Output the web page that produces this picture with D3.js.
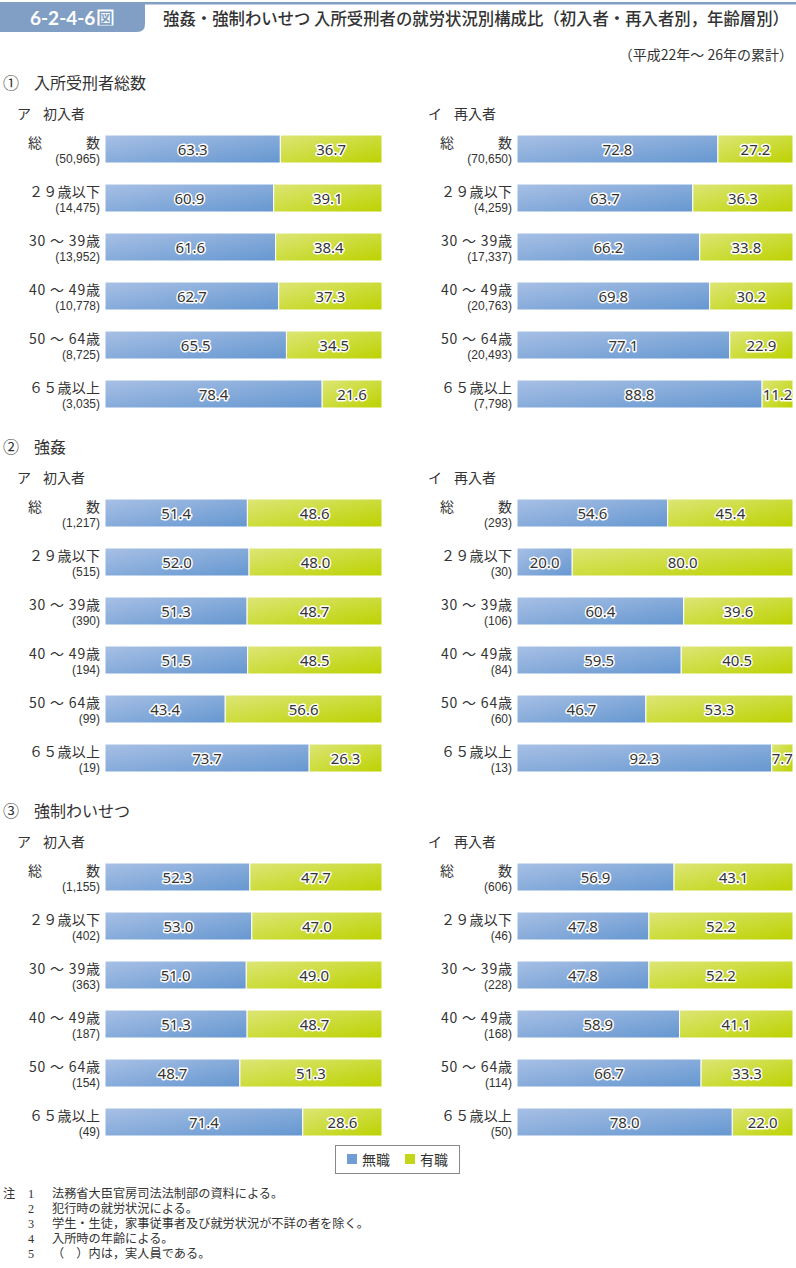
<!DOCTYPE html>
<html><head><meta charset="utf-8">
<script src="https://cdn.jsdelivr.net/npm/d3@7"></script>
<style>
html,body{margin:0;padding:0;background:#fff;}
svg{display:block;font-family:"Noto Sans CJK JP","Noto Sans",sans-serif;}
</style></head>
<body>
<svg id="chart" width="796" height="1268"></svg>
<script>
// ---- data ----
const categories = ["総数","29歳以下","30～39歳","40～49歳","50～64歳","65歳以上"];
const categoryLabels = ["総数","２９歳以下","30 ～ 39歳","40 ～ 49歳","50 ～ 64歳","６５歳以上"];
const sectionTitles = ["①","②","③"];
const sectionNames = ["入所受刑者総数","強姦","強制わいせつ"];
const panelTitles = [["ア","初入者"],["イ","再入者"]];
const seriesNames = ["無職","有職"];

// 入所受刑者総数
const totalFirstUnemp = [63.3,60.9,61.6,62.7,65.5,78.4];
const totalFirstEmp   = [36.7,39.1,38.4,37.3,34.5,21.6];
const totalFirstN     = [50965,14475,13952,10778,8725,3035];
const totalReUnemp    = [72.8,63.7,66.2,69.8,77.1,88.8];
const totalReEmp      = [27.2,36.3,33.8,30.2,22.9,11.2];
const totalReN        = [70650,4259,17337,20763,20493,7798];
// 強姦
const rapeFirstUnemp  = [51.4,52.0,51.3,51.5,43.4,73.7];
const rapeFirstEmp    = [48.6,48.0,48.7,48.5,56.6,26.3];
const rapeFirstN      = [1217,515,390,194,99,19];
const rapeReUnemp     = [54.6,20.0,60.4,59.5,46.7,92.3];
const rapeReEmp       = [45.4,80.0,39.6,40.5,53.3,7.7];
const rapeReN         = [293,30,106,84,60,13];
// 強制わいせつ
const indFirstUnemp   = [52.3,53.0,51.0,51.3,48.7,71.4];
const indFirstEmp     = [47.7,47.0,49.0,48.7,51.3,28.6];
const indFirstN       = [1155,402,363,187,154,49];
const indReUnemp      = [56.9,47.8,47.8,58.9,66.7,78.0];
const indReEmp        = [43.1,52.2,52.2,41.1,33.3,22.0];
const indReN          = [606,46,228,168,114,50];

const notes = [
 ["注","1","法務省大臣官房司法法制部の資料による。"],
 ["","2","犯行時の就労状況による。"],
 ["","3","学生・生徒，家事従事者及び就労状況が不詳の者を除く。"],
 ["","4","入所時の年齢による。"],
 ["","5","（　）内は，実人員である。"]
];

const sections = [
  [[totalFirstUnemp,totalFirstEmp,totalFirstN],[totalReUnemp,totalReEmp,totalReN]],
  [[rapeFirstUnemp,rapeFirstEmp,rapeFirstN],[rapeReUnemp,rapeReEmp,rapeReN]],
  [[indFirstUnemp,indFirstEmp,indFirstN],[indReUnemp,indReEmp,indReN]]
];

// ---- drawing ----
const svg = d3.select("#chart");
const txt = "#333";
const defs = svg.append("defs");
function grad(id, c1, c2){
  const g = defs.append("linearGradient").attr("id",id)
    .attr("x1","0").attr("y1","0").attr("x2","1").attr("y2","1");
  g.append("stop").attr("offset","0%").attr("stop-color",c1);
  g.append("stop").attr("offset","100%").attr("stop-color",c2);
}
grad("gBlue","#a8c0e5","#6597d0");
grad("gGreen","#dde677","#bcd200");
const fills = ["url(#gBlue)","url(#gGreen)"];
const legendColors = ["#6f9dd4","#c3d617"];

// header
const hc = "#819fc4";
svg.append("path")
  .attr("d","M0,2 H145 V24 Q145,32 137,32 H0 Z")
  .attr("fill",hc);
svg.append("rect").attr("x",145).attr("y",2).attr("width",651).attr("height",2.5).attr("fill",hc);
svg.append("text").attr("x",30).attr("y",25).attr("fill","#fff")
  .attr("font-size",19).attr("font-weight","bold").attr("font-family","Lato, 'Noto Sans', sans-serif")
  .text("6-2-4-6");
svg.append("rect").attr("x",97.5).attr("y",9.5).attr("width",16).attr("height",16)
  .attr("fill","#fff");
svg.append("text").attr("x",105.5).attr("y",23).attr("text-anchor","middle")
  .attr("fill",hc).attr("font-size",14).attr("font-weight","bold").text("図");
svg.append("text").attr("x",163).attr("y",25).attr("fill",txt)
  .attr("font-size",16.5).attr("font-weight",500)
  .attr("textLength",626).attr("lengthAdjust","spacingAndGlyphs")
  .text("強姦・強制わいせつ 入所受刑者の就労状況別構成比（初入者・再入者別，年齢層別）");
svg.append("text").attr("x",793).attr("y",60).attr("text-anchor","end")
  .attr("fill",txt).attr("font-size",14).text("（平成22年～ 26年の累計）");

const fmt = d3.format(",");
const sectionOffset = 364;
const panelX = [{x0:105,x1:382,lab:100,title:17},{x0:517,x1:793,lab:512,title:428}];

sections.forEach((sec, si) => {
  const oy = si*sectionOffset;
  svg.append("text").attr("x",3).attr("y",89+oy).attr("fill",txt).attr("font-size",16).text(sectionTitles[si]);
  svg.append("text").attr("x",34).attr("y",89+oy).attr("fill",txt).attr("font-size",16).text(sectionNames[si]);
  sec.forEach((pd, pi) => {
    const P = panelX[pi];
    const [unemp, emp, n] = pd;
    svg.append("text").attr("x",P.title).attr("y",119+oy).attr("fill",txt).attr("font-size",14).text(panelTitles[pi][0]);
    svg.append("text").attr("x",P.title+26).attr("y",119+oy).attr("fill",txt).attr("font-size",14).text(panelTitles[pi][1]);

    const x = d3.scaleLinear().domain([0,100]).range([P.x0,P.x1]);
    const y = d3.scaleBand().domain(categories).range([135+oy, 135+oy+5*49+28]).paddingInner(21/49).paddingOuter(0);

    const rows = categories.map((c,i)=>({cat:c,label:categoryLabels[i],vals:[unemp[i],emp[i]],n:n[i]}));
    const g = svg.append("g");
    rows.forEach(r => {
      let acc = 0;
      r.vals.forEach((v,k) => {
        const xa = x(acc), xb = x(acc+v);
        g.append("rect").attr("x",xa).attr("y",y(r.cat)).attr("width",xb-xa).attr("height",y.bandwidth())
          .attr("fill",fills[k]).attr("stroke","#fff").attr("stroke-width",1);
        g.append("text").attr("x",(xa+xb)/2).attr("y",y(r.cat)+y.bandwidth()/2+5.5)
          .attr("text-anchor","middle").attr("font-size",15)
          .attr("font-family","'Noto Sans','Open Sans',sans-serif")
          .attr("fill","#333").attr("stroke","#fff").attr("stroke-width",3)
          .attr("stroke-linejoin","round").attr("paint-order","stroke")
          .text(v.toFixed(1));
        acc += v;
      });
      const ty = y(r.cat);
      if (r.cat === "総数") {
        g.append("text").attr("x",P.lab-72).attr("y",ty+12.5).attr("fill",txt).attr("font-size",14).text("総");
        g.append("text").attr("x",P.lab).attr("y",ty+12.5).attr("text-anchor","end").attr("fill",txt).attr("font-size",14).text("数");
      } else {
        g.append("text").attr("x",P.lab-71).attr("y",ty+12.5).attr("fill",txt).attr("font-size",14)
          .attr("textLength",71).attr("lengthAdjust","spacing").text(r.label);
      }
      g.append("text").attr("x",P.lab).attr("y",ty+27.5).attr("text-anchor","end").attr("fill",txt)
        .attr("font-family","'Liberation Sans',Arial,sans-serif")
        .attr("font-size",12).text("(" + fmt(r.n) + ")");
    });
  });
});

// legend
const lg = svg.append("g");
lg.append("rect").attr("x",335.5).attr("y",1145.5).attr("width",124).attr("height",28)
  .attr("fill","#fff").attr("stroke","#888").attr("stroke-width",1);
seriesNames.forEach((s,i)=>{
  const lx = 347 + i*58;
  lg.append("rect").attr("x",lx).attr("y",1154).attr("width",10).attr("height",10).attr("fill",legendColors[i]);
  lg.append("text").attr("x",lx+15).attr("y",1164.5).attr("fill",txt).attr("font-size",14).text(s);
});

// notes
const noteFont = "'Liberation Serif','Noto Sans CJK JP',serif";
notes.forEach((nt,i)=>{
  const ny = 1198 + i*15;
  [[3,nt[0]],[28,nt[1]],[52,nt[2]]].forEach(([nx,s])=>{
    if (!s) return;
    svg.append("text").attr("x",nx).attr("y",ny).attr("fill",txt)
      .attr("font-family",noteFont).attr("font-size",12.2).text(s);
  });
});
</script>
</body></html>
